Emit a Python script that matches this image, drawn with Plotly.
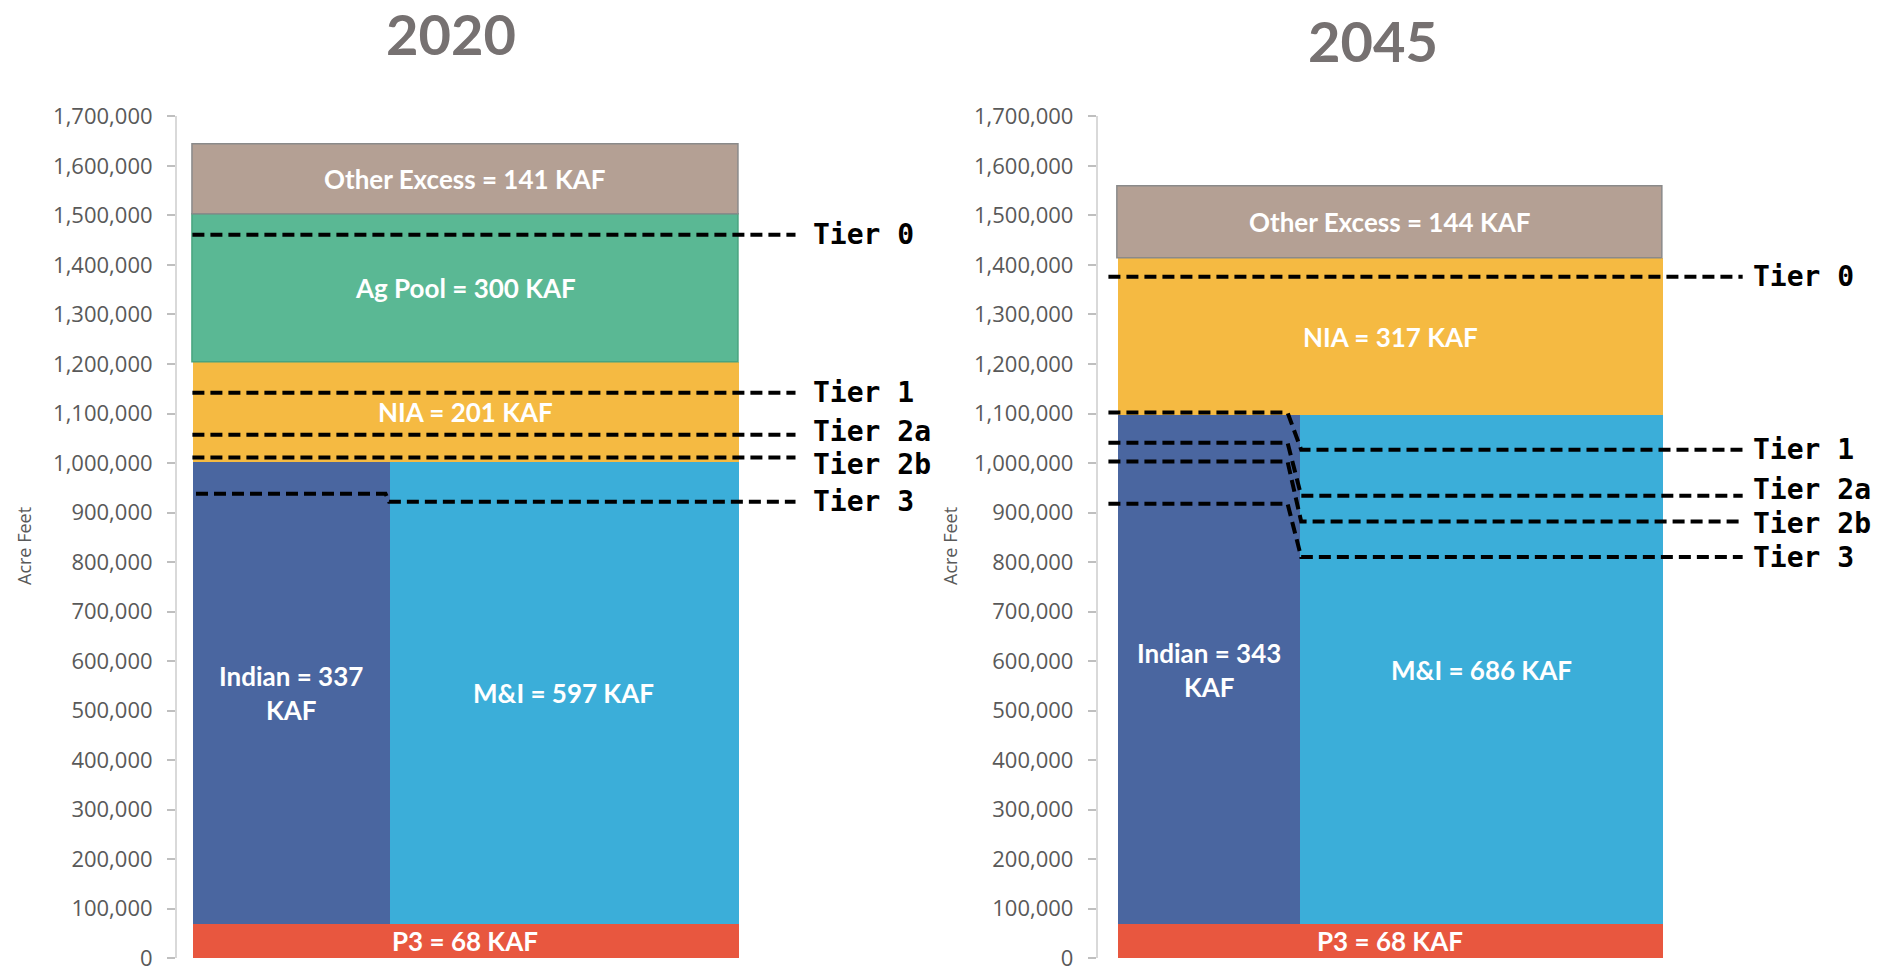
import plotly.graph_objects as go

# ---------------- data (acre-feet) ----------------
years = ["2020", "2045"]
p3 = [68000, 68000]
indian = [337000, 343000]
mi = [597000, 686000]
nia = [201000, 317000]
ag_pool = [300000, 0]
other_excess = [141000, 144000]

label_p3 = ["P3 = 68 KAF", "P3 = 68 KAF"]
label_indian = ["Indian = 337<br>KAF", "Indian = 343<br>KAF"]
label_mi = ["M&I = 597 KAF", "M&I = 686 KAF"]
label_nia = ["NIA = 201 KAF", "NIA = 317 KAF"]
label_ag = ["Ag Pool = 300 KAF", ""]
label_other = ["Other Excess = 141 KAF", "Other Excess = 144 KAF"]

tier_names = ["Tier 0", "Tier 1", "Tier 2a", "Tier 2b", "Tier 3"]
# tier level on Indian side / on M&I side
tier_indian_2020 = [1461000, 1142000, 1057000, 1011000, 938000]
tier_mi_2020 = [1461000, 1142000, 1057000, 1011000, 922000]
tier_indian_2045 = [1376000, 1102000, 1041000, 1003000, 918000]
tier_mi_2045 = [1376000, 1027000, 934000, 882000, 810000]

y_ticks = list(range(0, 1700001, 100000))

# ---------------- styling ----------------
C_P3 = "#E8573F"
C_IND = "#4A66A0"
C_MI = "#3BAED9"
C_NIA = "#F5BA42"
C_AG = "#5AB894"
C_OTH = "#B4A094"

OFF = 8                      # page body margin
WIN_W, WIN_H = 1885, 969
W, H = WIN_W - OFF, WIN_H - OFF


def px(v):   # window x pixel -> paper fraction
    return (v - OFF) / W


def py(v):   # window y pixel (from top) -> paper fraction
    return 1 - (v - OFF) / H


BAR_FONT = dict(family="Lato, Open Sans, sans-serif", size=26, color="white", weight="bold")
TIER_FONT = dict(family="DejaVu Sans Mono, monospace", size=28, color="black", weight="bold")
TICK_FONT = dict(family="Open Sans, sans-serif", size=22, color="#595959")

# panel geometry in window pixels
panels = [
    dict(axis_px=176.7, bar0=192.4, bar1=738.2, right_px=960, tier_start=0.0, tier_end=110.5,
         lab_x=113.4, title_x=451, title_y=34, ytitle_x=24, xref="x", yref="y",
         lab_shift=[0, 0, 3, -7, 0]),
    dict(axis_px=1097.6, bar0=1118.0, bar1=1662.6, right_px=WIN_W, tier_start=-1.76, tier_end=114.7,
         lab_x=116.2, title_x=1373, title_y=41, ytitle_x=950, xref="x2", yref="y2",
         lab_shift=[0, 0, 6, -2, 0]),
]
Y0_PX, Y1_PX = 958.2, 116.4

fig = go.Figure()
annotations = []

for i, pn in enumerate(panels):
    xr, yr = pn["xref"], pn["yref"]
    scale = 100.0 / (pn["bar1"] - pn["bar0"])
    x_lo = (pn["axis_px"] - pn["bar0"]) * scale
    x_hi = (pn["right_px"] - pn["bar0"]) * scale
    pn["range"] = [x_lo, x_hi]

    split = 100.0 * indian[i] / (indian[i] + mi[i])
    base_mid = p3[i]
    top_mid = p3[i] + indian[i] + mi[i]

    def add_bar(xc, width, base, val, color, line_color=None, line_w=0):
        fig.add_trace(go.Bar(
            x=[xc], y=[val], base=[base], width=[width],
            marker=dict(color=color, line=dict(color=line_color or color, width=line_w)),
            xaxis=xr, yaxis=yr, showlegend=False, hoverinfo="skip"))

    def add_label(xc, yc, txt):
        if txt:
            annotations.append(dict(x=xc, y=yc, xref=xr, yref=yr, text=txt, showarrow=False,
                                    font=BAR_FONT, align="center"))

    # P3
    add_bar(50, 100, 0, p3[i], C_P3)
    add_label(50, p3[i] / 2, label_p3[i])
    # Indian / M&I side by side (width proportional)
    add_bar(split / 2, split, base_mid, indian[i] + mi[i], C_IND)
    add_bar(split + (100 - split) / 2, 100 - split, base_mid, indian[i] + mi[i], C_MI)
    add_label(split / 2, base_mid + (indian[i] + mi[i]) / 2, label_indian[i])
    add_label(split + (100 - split) / 2, base_mid + (indian[i] + mi[i]) / 2, label_mi[i])
    # NIA
    add_bar(50, 100, top_mid, nia[i], C_NIA)
    add_label(50, top_mid + nia[i] / 2, label_nia[i])
    b = top_mid + nia[i]
    # Ag pool
    if ag_pool[i] > 0:
        add_bar(50, 100, b, ag_pool[i], C_AG, "#48A47F", 1.5)
        add_label(50, b + ag_pool[i] / 2, label_ag[i])
        b += ag_pool[i]
    # Other excess
    add_bar(50, 100, b, other_excess[i], C_OTH, "#8A8A8A", 1.5)
    add_label(50, b + other_excess[i] / 2, label_other[i])

    # tier lines
    t_ind = tier_indian_2020 if i == 0 else tier_indian_2045
    t_mi = tier_mi_2020 if i == 0 else tier_mi_2045
    for k, name in enumerate(tier_names):
        if t_ind[k] == t_mi[k]:
            xs = [pn["tier_start"], pn["tier_end"]]
            ys = [t_ind[k], t_mi[k]]
        else:
            if i == 0:
                xs = [0.66, split - 0.7, split - 0.05, pn["tier_end"]]
            else:
                xs = [pn["tier_start"], split - 2.2, split + 0.3, pn["tier_end"]]
            ys = [t_ind[k], t_ind[k], t_mi[k], t_mi[k]]
        fig.add_trace(go.Scatter(x=xs, y=ys, mode="lines",
                                 line=dict(color="black", width=4, dash="12px,6px"),
                                 xaxis=xr, yaxis=yr, showlegend=False, hoverinfo="skip",
                                 cliponaxis=False))
        annotations.append(dict(x=pn["lab_x"], y=t_mi[k], xref=xr, yref=yr, text=name,
                                showarrow=False, xanchor="left", yanchor="middle",
                                yshift=pn["lab_shift"][k], font=TIER_FONT))

    # panel title
    annotations.append(dict(x=px(pn["title_x"]), y=py(pn["title_y"]), xref="paper", yref="paper",
                            text=years[i], showarrow=False, xanchor="center", yanchor="middle",
                            font=dict(family="Lato, sans-serif", size=56, color="#767171",
                                      weight="bold")))
    # y axis title
    annotations.append(dict(x=px(pn["ytitle_x"]), y=py(546), xref="paper", yref="paper",
                            text="Acre Feet", showarrow=False, textangle=-90,
                            xanchor="center", yanchor="middle",
                            font=dict(family="Open Sans, sans-serif", size=18, color="#595959")))

ydom = [py(Y0_PX), py(Y1_PX)]
yaxis_common = dict(range=[0, 1700000], tickvals=y_ticks, tickformat=",d", showgrid=False,
                    zeroline=False, showline=True, linecolor="#D9D9D9", linewidth=1.5,
                    ticks="outside", ticklen=8, tickcolor="#BFBFBF", tickwidth=1.5,
                    tickfont=TICK_FONT, ticklabelstandoff=10, domain=ydom, fixedrange=True,
                    automargin=False, ticklabeloverflow="allow")

fig.update_layout(
    width=W, height=H,
    margin=dict(l=0, r=0, t=0, b=0, autoexpand=False),
    paper_bgcolor="white", plot_bgcolor="white",
    barmode="overlay", bargap=0,
    showlegend=False,
    xaxis=dict(domain=[px(panels[0]["axis_px"]), px(panels[0]["right_px"])], range=panels[0]["range"],
               visible=False, fixedrange=True, automargin=False),
    xaxis2=dict(domain=[px(panels[1]["axis_px"]), px(panels[1]["right_px"])], range=panels[1]["range"],
                visible=False, fixedrange=True, automargin=False),
    yaxis=dict(anchor="x", **yaxis_common),
    yaxis2=dict(anchor="x2", **yaxis_common),
    annotations=annotations,
)

fig.write_html("out.html")
